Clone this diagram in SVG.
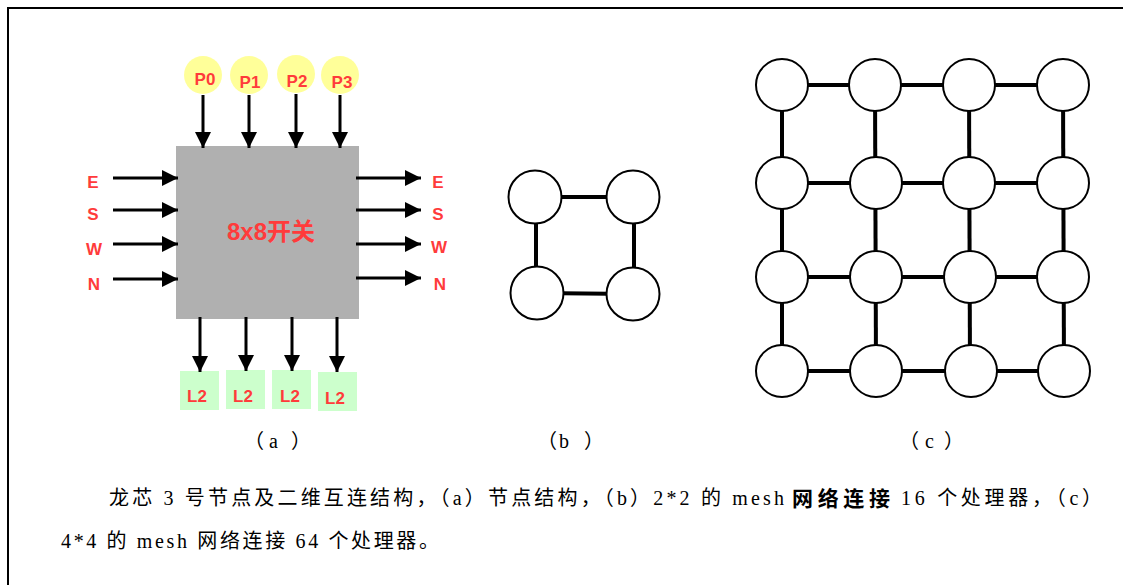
<svg xmlns="http://www.w3.org/2000/svg" width="1123" height="585" viewBox="0 0 1123 585">
<style>
.lbl{font-family:"Liberation Sans","Noto Sans CJK SC",sans-serif;font-weight:bold;fill:#ff3b3b;text-anchor:middle}
.cap{font-family:"Liberation Serif","Noto Sans CJK SC",serif;font-size:20px;fill:#000}
.arr{stroke:#000;stroke-width:3;fill:none;marker-end:url(#ah)}
.lk{stroke:#000;stroke-width:4;fill:none}
.nd{fill:#fff;stroke:#000;stroke-width:2}
.pc{fill:#ffff99}
.l2{fill:#ccffcc}
</style>
<defs>
<marker id="ah" viewBox="0 0 16 16" refX="16" refY="8" markerWidth="16" markerHeight="16" markerUnits="userSpaceOnUse" orient="auto">
<path d="M0,0 L16,8 L0,16 z" fill="#000"/>
</marker>
</defs>
<rect width="1123" height="585" fill="#fff"/>
<path d="M8,585 V8 H1123" fill="none" stroke="#000" stroke-width="2"/>

<!-- Panel (a) -->
<g id="switch">
<rect x="176" y="146" width="183" height="173" fill="#b0b0b0"/>
<text class="lbl" x="271" y="240" font-size="24">8x8开关</text>
</g>
<g id="P0"><circle class="pc" cx="203" cy="75" r="19"/><text class="lbl" x="205" y="85" font-size="17">P0</text></g>
<g id="P1"><circle class="pc" cx="249" cy="75" r="19"/><text class="lbl" x="250" y="88" font-size="17">P1</text></g>
<g id="P2"><circle class="pc" cx="296" cy="74" r="19"/><text class="lbl" x="297" y="87" font-size="17">P2</text></g>
<g id="P3"><circle class="pc" cx="340" cy="75" r="19"/><text class="lbl" x="342" y="88" font-size="17">P3</text></g>
<g id="L2a"><rect class="l2" x="180" y="371" width="39" height="39"/><text class="lbl" x="197" y="402" font-size="17">L2</text></g>
<g id="L2b"><rect class="l2" x="226" y="370" width="39" height="39"/><text class="lbl" x="243" y="402" font-size="17">L2</text></g>
<g id="L2c"><rect class="l2" x="272" y="370" width="39" height="39"/><text class="lbl" x="290" y="402" font-size="17">L2</text></g>
<g id="L2d"><rect class="l2" x="318" y="372" width="39" height="39"/><text class="lbl" x="335" y="404" font-size="17">L2</text></g>
<g id="ports">
<text class="lbl" x="93" y="188" font-size="17">E</text>
<text class="lbl" x="93" y="220" font-size="17">S</text>
<text class="lbl" x="94" y="255" font-size="17">W</text>
<text class="lbl" x="94" y="290" font-size="17">N</text>
<text class="lbl" x="438" y="188" font-size="17">E</text>
<text class="lbl" x="438" y="220" font-size="17">S</text>
<text class="lbl" x="439" y="253" font-size="17">W</text>
<text class="lbl" x="440" y="290" font-size="17">N</text>
</g>
<g id="connectors-a">
<line class="arr" x1="203" y1="95" x2="203" y2="148"/>
<line class="arr" x1="249" y1="95" x2="249" y2="148"/>
<line class="arr" x1="296" y1="94" x2="296" y2="148"/>
<line class="arr" x1="340" y1="95" x2="340" y2="148"/>
<line class="arr" x1="113" y1="178" x2="178" y2="178"/>
<line class="arr" x1="113" y1="210" x2="178" y2="210"/>
<line class="arr" x1="113" y1="244" x2="178" y2="244"/>
<line class="arr" x1="113" y1="279" x2="178" y2="279"/>
<line class="arr" x1="356" y1="178" x2="421" y2="178"/>
<line class="arr" x1="356" y1="210" x2="421" y2="210"/>
<line class="arr" x1="356" y1="244" x2="421" y2="244"/>
<line class="arr" x1="356" y1="278" x2="421" y2="278"/>
<line class="arr" x1="200" y1="317" x2="200" y2="372"/>
<line class="arr" x1="246" y1="317" x2="246" y2="371"/>
<line class="arr" x1="292" y1="317" x2="292" y2="371"/>
<line class="arr" x1="337" y1="317" x2="337" y2="372"/>
</g>

<!-- Panel (b) -->
<g id="connectors-b">
<line class="lk" x1="535" y1="197" x2="633" y2="197"/>
<line class="lk" x1="536" y1="197" x2="536" y2="293"/>
<line class="lk" x1="634" y1="197" x2="634" y2="294"/>
<line class="lk" x1="537" y1="293" x2="633" y2="294"/>
</g>
<g id="b00"><circle class="nd" cx="535" cy="197" r="26.5"/></g>
<g id="b01"><circle class="nd" cx="633" cy="197" r="26.5"/></g>
<g id="b10"><circle class="nd" cx="537" cy="293" r="26.5"/></g>
<g id="b11"><circle class="nd" cx="633" cy="294" r="26.5"/></g>

<!-- Panel (c) -->
<g id="connectors-c">
<line class="lk" x1="782" y1="85" x2="1063" y2="85"/>
<line class="lk" x1="782" y1="183" x2="1063" y2="183"/>
<line class="lk" x1="782" y1="277" x2="1063" y2="277"/>
<line class="lk" x1="782" y1="371" x2="1064" y2="371"/>
<line class="lk" x1="782" y1="85" x2="782" y2="371"/>
<line class="lk" x1="875" y1="85" x2="876" y2="371"/>
<line class="lk" x1="969" y1="85" x2="970" y2="371"/>
<line class="lk" x1="1063" y1="85" x2="1064" y2="371"/>
</g>
<g id="c00"><circle class="nd" cx="782" cy="85" r="26"/></g>
<g id="c01"><circle class="nd" cx="875" cy="85" r="26"/></g>
<g id="c02"><circle class="nd" cx="969" cy="85" r="26"/></g>
<g id="c03"><circle class="nd" cx="1063" cy="85" r="26"/></g>
<g id="c10"><circle class="nd" cx="782" cy="183" r="26"/></g>
<g id="c11"><circle class="nd" cx="876" cy="183" r="26"/></g>
<g id="c12"><circle class="nd" cx="969" cy="183" r="26"/></g>
<g id="c13"><circle class="nd" cx="1063" cy="183" r="26"/></g>
<g id="c20"><circle class="nd" cx="782" cy="277" r="26"/></g>
<g id="c21"><circle class="nd" cx="876" cy="277" r="26"/></g>
<g id="c22"><circle class="nd" cx="970" cy="277" r="26"/></g>
<g id="c23"><circle class="nd" cx="1063" cy="277" r="26"/></g>
<g id="c30"><circle class="nd" cx="782" cy="371" r="26"/></g>
<g id="c31"><circle class="nd" cx="876" cy="371" r="26"/></g>
<g id="c32"><circle class="nd" cx="971" cy="371" r="26"/></g>
<g id="c33"><circle class="nd" cx="1064" cy="371" r="26"/></g>

<!-- Sub-labels -->
<text class="cap" y="448" x="244 269 291">（a）</text>
<text class="cap" y="448" x="537 559 584">（b）</text>
<text class="cap" y="448" x="899 925 944">（c）</text>

<!-- Caption -->
<text class="cap" x="109" y="505" textLength="675" lengthAdjust="spacing">龙芯 3 号节点及二维互连结构，（a）节点结构，（b）2*2 的 mesh</text>
<text x="792" y="506" font-family="Noto Sans CJK SC, sans-serif" font-weight="bold" font-size="21" textLength="98" lengthAdjust="spacing">网络连接</text>
<text class="cap" x="901" y="505" textLength="201" lengthAdjust="spacing">16 个处理器，（c）</text>
<text class="cap" x="61" y="548" textLength="378" lengthAdjust="spacing">4*4 的 mesh 网络连接 64 个处理器。</text>
</svg>
